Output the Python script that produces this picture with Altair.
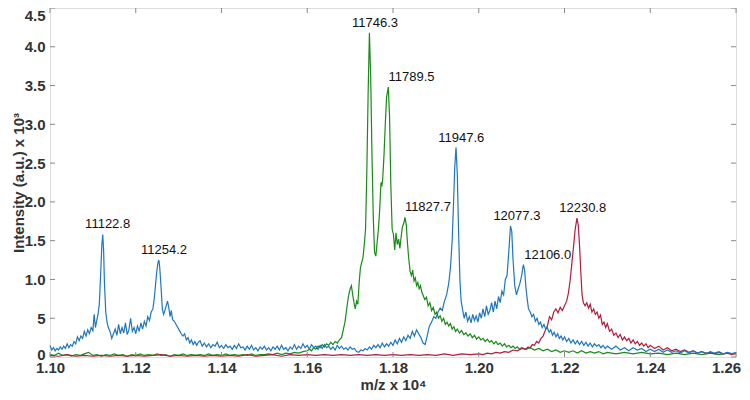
import altair as alt
import pandas as pd

# ---- data: (m/z, intensity x10^3) ----
blue = [
    (11000, 0.15), (11004, 0.09), (11008, 0.12), (11012, 0.08), (11016, 0.11), (11020, 0.09),
    (11024, 0.13), (11028, 0.10), (11032, 0.14), (11036, 0.11), (11040, 0.17), (11044, 0.12),
    (11048, 0.16), (11052, 0.14), (11056, 0.20), (11060, 0.17), (11064, 0.26), (11068, 0.21),
    (11072, 0.27), (11076, 0.24), (11080, 0.33), (11084, 0.27), (11088, 0.35), (11092, 0.30),
    (11096, 0.38), (11100, 0.34), (11103, 0.55), (11106, 0.38), (11109, 0.47), (11112, 0.55),
    (11115, 0.68), (11118, 1.05), (11121, 1.45), (11123, 1.58), (11125, 1.38), (11127, 0.95),
    (11130, 0.58), (11133, 0.45), (11136, 0.38), (11140, 0.33), (11144, 0.24), (11148, 0.30),
    (11152, 0.36), (11156, 0.28), (11160, 0.42), (11164, 0.30), (11168, 0.38), (11172, 0.31),
    (11176, 0.44), (11180, 0.29), (11184, 0.35), (11188, 0.50), (11192, 0.33), (11196, 0.38),
    (11200, 0.30), (11204, 0.40), (11208, 0.33), (11212, 0.44), (11216, 0.36), (11220, 0.46),
    (11224, 0.40), (11228, 0.52), (11232, 0.47), (11236, 0.58), (11240, 0.62), (11243, 0.75),
    (11246, 0.92), (11249, 1.10), (11252, 1.22), (11254, 1.25), (11256, 1.15), (11259, 0.90),
    (11262, 0.62), (11265, 0.55), (11268, 0.60), (11271, 0.66), (11274, 0.72), (11277, 0.64),
    (11280, 0.52), (11283, 0.60), (11286, 0.48), (11290, 0.46), (11294, 0.42), (11298, 0.38),
    (11302, 0.34), (11306, 0.30), (11310, 0.27), (11314, 0.30), (11318, 0.22), (11322, 0.25),
    (11326, 0.18), (11330, 0.22), (11334, 0.16), (11338, 0.20), (11342, 0.15), (11346, 0.19),
    (11350, 0.21), (11355, 0.14), (11360, 0.18), (11365, 0.13), (11370, 0.17), (11375, 0.12),
    (11380, 0.16), (11385, 0.14), (11390, 0.19), (11395, 0.12), (11400, 0.15), (11405, 0.11),
    (11410, 0.16), (11415, 0.12), (11420, 0.14), (11425, 0.10), (11430, 0.15), (11435, 0.11),
    (11440, 0.17), (11445, 0.12), (11450, 0.13), (11455, 0.09), (11460, 0.14), (11465, 0.10),
    (11470, 0.15), (11475, 0.09), (11480, 0.12), (11485, 0.08), (11490, 0.13), (11495, 0.10),
    (11500, 0.14), (11505, 0.09), (11510, 0.12), (11515, 0.08), (11520, 0.13), (11525, 0.10),
    (11530, 0.14), (11535, 0.09), (11540, 0.15), (11545, 0.10), (11550, 0.12), (11555, 0.08),
    (11560, 0.13), (11565, 0.10), (11570, 0.16), (11575, 0.10), (11580, 0.14), (11585, 0.11),
    (11590, 0.17), (11595, 0.12), (11600, 0.15), (11605, 0.10), (11610, 0.16), (11615, 0.12),
    (11620, 0.14), (11625, 0.10), (11630, 0.15), (11635, 0.11), (11640, 0.16), (11645, 0.12),
    (11650, 0.14), (11655, 0.10), (11660, 0.13), (11665, 0.09), (11670, 0.15), (11675, 0.11),
    (11680, 0.14), (11685, 0.10), (11690, 0.12), (11695, 0.09), (11700, 0.13), (11705, 0.10),
    (11710, 0.11), (11715, 0.07), (11720, 0.06), (11725, 0.09), (11730, 0.08), (11735, 0.11),
    (11740, 0.09), (11745, 0.13), (11750, 0.10), (11755, 0.15), (11760, 0.12), (11765, 0.16),
    (11770, 0.12), (11775, 0.18), (11780, 0.13), (11785, 0.17), (11790, 0.14), (11795, 0.19),
    (11800, 0.15), (11805, 0.22), (11810, 0.17), (11815, 0.24), (11820, 0.19), (11825, 0.26),
    (11830, 0.21), (11835, 0.28), (11840, 0.24), (11845, 0.33), (11850, 0.27), (11855, 0.35),
    (11860, 0.30), (11865, 0.25), (11870, 0.18), (11875, 0.16), (11880, 0.28), (11885, 0.40),
    (11890, 0.45), (11895, 0.52), (11900, 0.50), (11905, 0.58), (11910, 0.63), (11915, 0.60),
    (11920, 0.72), (11925, 0.80), (11930, 0.95), (11934, 1.15), (11938, 1.50), (11941, 1.95),
    (11944, 2.45), (11947, 2.70), (11950, 2.35), (11953, 1.60), (11956, 1.00), (11959, 0.72),
    (11962, 0.62), (11966, 0.50), (11970, 0.58), (11974, 0.46), (11978, 0.52), (11982, 0.44),
    (11986, 0.55), (11990, 0.47), (11994, 0.53), (11998, 0.45), (12002, 0.57), (12006, 0.50),
    (12010, 0.62), (12014, 0.52), (12018, 0.66), (12022, 0.55), (12026, 0.60), (12030, 0.70),
    (12034, 0.58), (12038, 0.72), (12042, 0.62), (12046, 0.78), (12050, 0.70), (12054, 0.85),
    (12058, 0.80), (12062, 1.00), (12066, 1.05), (12070, 1.35), (12074, 1.69), (12077, 1.62),
    (12080, 1.25), (12084, 0.92), (12088, 0.80), (12092, 0.88), (12096, 0.95), (12100, 1.05),
    (12104, 1.19), (12107, 1.12), (12110, 0.90), (12113, 0.75), (12116, 0.62), (12120, 0.58),
    (12124, 0.52), (12128, 0.55), (12132, 0.46), (12136, 0.50), (12140, 0.42), (12144, 0.45),
    (12148, 0.38), (12152, 0.42), (12156, 0.36), (12160, 0.38), (12164, 0.32), (12168, 0.35),
    (12172, 0.28), (12176, 0.32), (12180, 0.26), (12184, 0.30), (12188, 0.24), (12192, 0.27),
    (12196, 0.22), (12200, 0.26), (12205, 0.20), (12210, 0.24), (12215, 0.18), (12220, 0.22),
    (12225, 0.17), (12230, 0.21), (12235, 0.16), (12240, 0.20), (12245, 0.15), (12250, 0.19),
    (12255, 0.14), (12260, 0.18), (12265, 0.13), (12270, 0.17), (12275, 0.14), (12280, 0.16),
    (12285, 0.12), (12290, 0.15), (12295, 0.11), (12300, 0.14), (12310, 0.10), (12320, 0.14),
    (12330, 0.09), (12340, 0.12), (12350, 0.08), (12360, 0.12), (12370, 0.09), (12380, 0.11),
    (12390, 0.07), (12400, 0.10), (12410, 0.07), (12420, 0.10), (12430, 0.06), (12440, 0.09),
    (12450, 0.06), (12460, 0.08), (12470, 0.05), (12480, 0.08), (12490, 0.05), (12500, 0.08),
    (12510, 0.05), (12520, 0.07), (12530, 0.04), (12540, 0.07), (12550, 0.05), (12560, 0.07),
    (12570, 0.04), (12580, 0.06), (12590, 0.04), (12600, 0.06),
]

green = [
    (11000, 0.03), (11010, 0.02), (11020, 0.05), (11030, 0.02), (11040, 0.03), (11050, 0.01),
    (11060, 0.03), (11070, 0.02), (11080, 0.04), (11090, 0.06), (11100, 0.02), (11110, 0.03),
    (11120, 0.01), (11130, 0.03), (11140, 0.02), (11150, 0.04), (11160, 0.02), (11170, 0.03),
    (11180, 0.01), (11190, 0.03), (11200, 0.02), (11210, 0.04), (11220, 0.02), (11230, 0.03),
    (11240, 0.02), (11250, 0.04), (11260, 0.02), (11270, 0.03), (11280, 0.01), (11290, 0.03),
    (11300, 0.02), (11310, 0.04), (11320, 0.02), (11330, 0.03), (11340, 0.02), (11350, 0.03),
    (11360, 0.02), (11370, 0.04), (11380, 0.02), (11390, 0.03), (11400, 0.02), (11410, 0.04),
    (11420, 0.02), (11430, 0.03), (11440, 0.02), (11450, 0.03), (11460, 0.02), (11470, 0.04),
    (11480, 0.02), (11490, 0.03), (11500, 0.03), (11510, 0.04), (11520, 0.03), (11530, 0.05),
    (11540, 0.03), (11550, 0.05), (11560, 0.04), (11570, 0.06), (11580, 0.05), (11590, 0.07),
    (11600, 0.08), (11605, 0.10), (11610, 0.08), (11615, 0.12), (11620, 0.10), (11625, 0.14),
    (11630, 0.12), (11635, 0.16), (11640, 0.13), (11645, 0.17), (11650, 0.15), (11655, 0.19),
    (11660, 0.16), (11665, 0.20), (11670, 0.18), (11675, 0.22), (11680, 0.25), (11684, 0.35),
    (11688, 0.45), (11692, 0.62), (11696, 0.78), (11700, 0.88), (11703, 0.92), (11706, 0.80),
    (11709, 0.70), (11712, 0.62), (11715, 0.72), (11718, 0.68), (11721, 0.95), (11724, 1.15),
    (11727, 1.22), (11730, 1.28), (11733, 1.45), (11736, 1.65), (11739, 2.40), (11742, 3.40),
    (11745, 4.18), (11748, 3.60), (11751, 2.60), (11754, 1.80), (11757, 1.35), (11760, 1.30),
    (11763, 1.48), (11766, 1.65), (11769, 1.90), (11772, 2.25), (11774, 2.20), (11776, 2.30),
    (11779, 2.60), (11782, 3.00), (11785, 3.35), (11789, 3.48), (11792, 3.10), (11795, 2.20),
    (11798, 1.65), (11801, 1.58), (11804, 1.38), (11807, 1.60), (11810, 1.45), (11813, 1.52),
    (11816, 1.40), (11819, 1.55), (11822, 1.68), (11825, 1.72), (11828, 1.80), (11831, 1.70),
    (11834, 1.45), (11837, 1.25), (11840, 1.10), (11843, 1.05), (11846, 1.12), (11849, 0.98),
    (11852, 1.02), (11855, 0.92), (11858, 0.96), (11861, 0.88), (11864, 0.92), (11867, 0.84),
    (11870, 0.80), (11874, 0.74), (11878, 0.77), (11882, 0.66), (11886, 0.70), (11890, 0.60),
    (11894, 0.64), (11898, 0.55), (11902, 0.58), (11906, 0.50), (11910, 0.53), (11914, 0.46),
    (11918, 0.50), (11922, 0.42), (11926, 0.45), (11930, 0.40), (11934, 0.43), (11938, 0.36),
    (11942, 0.39), (11946, 0.33), (11950, 0.36), (11955, 0.31), (11960, 0.34), (11965, 0.29),
    (11970, 0.31), (11975, 0.27), (11980, 0.30), (11985, 0.25), (11990, 0.28), (11995, 0.23),
    (12000, 0.26), (12005, 0.22), (12010, 0.24), (12015, 0.20), (12020, 0.23), (12025, 0.19),
    (12030, 0.21), (12035, 0.17), (12040, 0.20), (12045, 0.16), (12050, 0.18), (12055, 0.14),
    (12060, 0.17), (12065, 0.13), (12070, 0.15), (12075, 0.12), (12080, 0.14), (12085, 0.11),
    (12090, 0.13), (12095, 0.10), (12100, 0.12), (12110, 0.10), (12120, 0.12), (12130, 0.09),
    (12140, 0.11), (12150, 0.08), (12160, 0.10), (12170, 0.07), (12180, 0.09), (12190, 0.06),
    (12200, 0.08), (12210, 0.06), (12220, 0.08), (12230, 0.05), (12240, 0.08), (12250, 0.05),
    (12260, 0.07), (12270, 0.05), (12280, 0.07), (12290, 0.04), (12300, 0.06), (12320, 0.04),
    (12340, 0.06), (12360, 0.04), (12380, 0.06), (12400, 0.04), (12420, 0.05), (12440, 0.03),
    (12460, 0.05), (12480, 0.03), (12500, 0.05), (12520, 0.03), (12540, 0.05), (12560, 0.03),
    (12580, 0.05), (12600, 0.04),
]

red = [
    (11000, 0.02), (11020, 0.01), (11040, 0.03), (11060, 0.01), (11080, 0.02), (11100, 0.01),
    (11120, 0.02), (11140, 0.01), (11160, 0.02), (11180, 0.01), (11200, 0.02), (11220, 0.01),
    (11240, 0.02), (11260, 0.03), (11280, 0.01), (11300, 0.02), (11320, 0.01), (11340, 0.02),
    (11360, 0.01), (11380, 0.02), (11400, 0.01), (11420, 0.02), (11440, 0.01), (11460, 0.03),
    (11480, 0.01), (11500, 0.02), (11520, 0.03), (11540, 0.01), (11560, 0.03), (11580, 0.02),
    (11600, 0.03), (11620, 0.02), (11640, 0.03), (11660, 0.02), (11680, 0.03), (11700, 0.02),
    (11720, 0.03), (11740, 0.02), (11760, 0.03), (11780, 0.02), (11800, 0.03), (11820, 0.02),
    (11840, 0.03), (11860, 0.02), (11880, 0.03), (11900, 0.02), (11920, 0.04), (11940, 0.02),
    (11960, 0.04), (11980, 0.03), (12000, 0.04), (12010, 0.03), (12020, 0.05), (12030, 0.04),
    (12040, 0.06), (12050, 0.05), (12060, 0.07), (12070, 0.06), (12080, 0.09), (12090, 0.08),
    (12100, 0.11), (12110, 0.10), (12115, 0.13), (12120, 0.12), (12125, 0.16), (12130, 0.15),
    (12135, 0.20), (12140, 0.18), (12145, 0.24), (12150, 0.27), (12155, 0.34), (12160, 0.40),
    (12165, 0.52), (12170, 0.48), (12175, 0.58), (12180, 0.62), (12185, 0.57), (12190, 0.64),
    (12195, 0.60), (12200, 0.66), (12205, 0.72), (12209, 0.82), (12213, 0.98), (12217, 1.20),
    (12221, 1.42), (12225, 1.65), (12229, 1.79), (12232, 1.70), (12235, 1.45), (12238, 1.10),
    (12241, 0.80), (12244, 0.70), (12248, 0.66), (12252, 0.70), (12256, 0.63), (12260, 0.68),
    (12264, 0.58), (12268, 0.62), (12272, 0.55), (12276, 0.58), (12280, 0.50), (12284, 0.54),
    (12288, 0.42), (12292, 0.45), (12296, 0.38), (12300, 0.43), (12305, 0.33), (12310, 0.36),
    (12315, 0.28), (12320, 0.31), (12325, 0.25), (12330, 0.29), (12335, 0.22), (12340, 0.26),
    (12345, 0.21), (12350, 0.24), (12355, 0.18), (12360, 0.22), (12365, 0.17), (12370, 0.20),
    (12375, 0.15), (12380, 0.18), (12385, 0.14), (12390, 0.17), (12395, 0.12), (12400, 0.15),
    (12410, 0.11), (12420, 0.14), (12430, 0.09), (12440, 0.12), (12450, 0.08), (12460, 0.10),
    (12470, 0.07), (12480, 0.09), (12490, 0.06), (12500, 0.08), (12510, 0.05), (12520, 0.07),
    (12530, 0.05), (12540, 0.06), (12550, 0.04), (12560, 0.06), (12570, 0.04), (12580, 0.05),
    (12590, 0.03), (12600, 0.05),
]

# peak annotations: m/z and peak height
peak_mz_center = [11122.8, 11254.2, 11746.3, 11947.6, 12077.3, 12230.8]
peak_int_center = [1.58, 1.25, 4.18, 2.70, 1.69, 1.79]
peak_mz_left = [11789.5, 11827.7, 12106.0]
peak_int_left = [3.48, 1.80, 1.19]

x_ticks = [11000, 11200, 11400, 11600, 11800, 12000, 12200, 12400, 12600]
y_ticks = [0, 0.5, 1.0, 1.5, 2.0, 2.5, 3.0, 3.5, 4.0, 4.5]

W, H = 686, 349
FONT = "Liberation Sans"
AX_COLOR = "#8a8a8a"
TXT = "#333333"

def frame(pairs):
    return pd.DataFrame(pairs, columns=["mz", "I"])

xscale = alt.Scale(domain=[11000, 12600], nice=False, zero=False)
yscale = alt.Scale(domain=[0, 4.5], nice=False)

x_axis = alt.Axis(
    values=x_ticks, ticks=False, domain=False, grid=False,
    labelExpr="format(datum.value / 10000, '.2f')",
    labelFont=FONT, labelFontSize=15, labelFontWeight="bold", labelColor=TXT,
    labelPadding=3, labelFlush=False, labelOverlap=False,
    labelOffset={"condition": {"test": "datum.value == 12600", "value": -10}, "value": 0},
    title="m/z  x 10\u2074", titleFont=FONT, titleFontSize=15, titleFontWeight="bold",
    titleColor=TXT, titlePadding=2,
)
y_axis = alt.Axis(
    values=y_ticks, ticks=False, domain=False, grid=False,
    labelExpr="datum.value == 0 ? '0' : (datum.value == 0.5 ? '5' : format(datum.value, '.1f'))",
    labelFont=FONT, labelFontSize=15, labelFontWeight="bold", labelColor=TXT,
    labelPadding=5, labelFlush=False, labelOverlap=False,
    labelOffset={"condition": [{"test": "datum.value == 4.5", "value": 7},
                               {"test": "datum.value == 0", "value": -3}], "value": 0},
    title="Intensity (a.u.) x 10\u00b3", titleFont=FONT, titleFontSize=15, titleFontWeight="bold",
    titleColor=TXT, titleX=-27, titleY=H / 2, titleAngle=270, titleAlign="center",
    titleBaseline="alphabetic",
)

X = lambda f: alt.X(f, scale=xscale, axis=x_axis)
Y = lambda f: alt.Y(f, scale=yscale, axis=y_axis)

def series(pairs, color):
    return alt.Chart(frame(pairs)).mark_line(color=color, strokeWidth=1.2).encode(
        x=X("mz:Q"), y=Y("I:Q"))

green_line = series(green, "#1b8a1b")
red_line = series(red, "#b01e3e")
blue_line = series(blue, "#1f77bf")

xt = pd.DataFrame({"t": x_ticks})
yt = pd.DataFrame({"t": y_ticks})
tick_style = dict(color=AX_COLOR, strokeWidth=1)
tb = alt.Chart(xt).mark_rule(**tick_style).encode(x=X("t:Q"), y=alt.value(H), y2=alt.value(H - 5))
tt = alt.Chart(xt).mark_rule(**tick_style).encode(x=X("t:Q"), y=alt.value(0), y2=alt.value(5))
tl = alt.Chart(yt).mark_rule(**tick_style).encode(y=Y("t:Q"), x=alt.value(0), x2=alt.value(5))
tr = alt.Chart(yt).mark_rule(**tick_style).encode(y=Y("t:Q"), x=alt.value(W), x2=alt.value(W - 5))

lab_c = pd.DataFrame({"mz": peak_mz_center, "I": peak_int_center})
lab_l = pd.DataFrame({"mz": peak_mz_left, "I": peak_int_left})
text_c = alt.Chart(lab_c).mark_text(
    font=FONT, fontSize=13, color="#111111", align="center", baseline="middle", dx=5, dy=-10
).encode(x=X("mz:Q"), y=Y("I:Q"), text=alt.Text("mz:Q", format=".1f"))
text_l = alt.Chart(lab_l).mark_text(
    font=FONT, fontSize=13, color="#111111", align="left", baseline="middle", dx=0, dy=-10
).encode(x=X("mz:Q"), y=Y("I:Q"), text=alt.Text("mz:Q", format=".1f"))

chart = alt.layer(
    green_line, red_line, blue_line, tb, tt, tl, tr, text_c, text_l
).properties(
    width=W, height=H,
    autosize=alt.AutoSizeParams(type="none"),
    padding={"left": 42, "top": 0, "right": 6, "bottom": 35},
).configure_view(stroke=AX_COLOR, strokeWidth=1).configure(background="white")

chart.save("out.html", embed_options={"renderer": "svg", "actions": False})
